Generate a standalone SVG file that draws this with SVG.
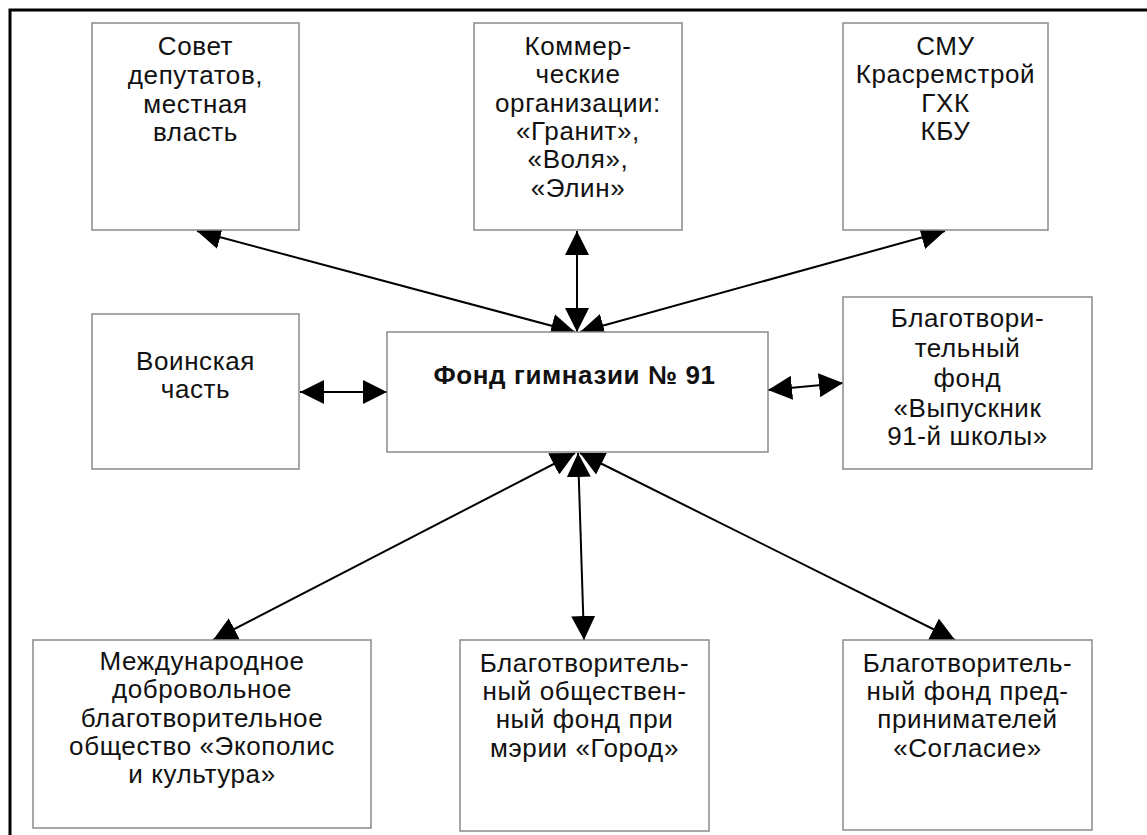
<svg xmlns="http://www.w3.org/2000/svg" width="1147" height="835" viewBox="0 0 1147 835">
<defs>
<style>
.box{fill:#fff;stroke:#8a8a8a;stroke-width:1.5}
.t{font-family:"Liberation Sans",Arial,sans-serif;font-size:26px;letter-spacing:0.6px;fill:#111;text-anchor:middle}
.b{font-weight:bold}
.c{stroke:#000;stroke-width:2;fill:none;marker-start:url(#ah);marker-end:url(#ah)}
</style>
<marker id="ah" viewBox="0 0 24 24" refX="24" refY="12" markerWidth="24" markerHeight="24" markerUnits="userSpaceOnUse" orient="auto-start-reverse">
<path d="M0,0 L24,12 L0,24 z" fill="#000"/>
</marker>
</defs>
<rect width="1147" height="835" fill="#fff"/>
<path d="M10,835 L10,10 L1147,10" fill="none" stroke="#000" stroke-width="3"/>

<g id="connectors">
<line class="c" x1="197" y1="231" x2="575" y2="332"/>
<line class="c" x1="577" y1="231" x2="577" y2="332"/>
<line class="c" x1="945" y1="231" x2="580" y2="332"/>
<line class="c" x1="300" y1="392" x2="387" y2="392"/>
<line class="c" x1="768" y1="390" x2="843" y2="383"/>
<line class="c" x1="213" y1="640" x2="575" y2="453"/>
<line class="c" x1="584" y1="640" x2="578" y2="453"/>
<line class="c" x1="955" y1="640" x2="580" y2="453"/>
</g>

<g id="n-sovet">
<rect class="box" x="92" y="23" width="207" height="207"/>
<text class="t" x="195.5" y="55">Совет</text>
<text class="t" x="195.5" y="84">депутатов,</text>
<text class="t" x="195.5" y="113">местная</text>
<text class="t" x="195.5" y="141">власть</text>
</g>

<g id="n-kommer">
<rect class="box" x="474" y="23" width="208" height="207"/>
<text class="t" x="578" y="55">Коммер-</text>
<text class="t" x="578" y="83">ческие</text>
<text class="t" x="578" y="112">организации:</text>
<text class="t" x="578" y="140">«Гранит»,</text>
<text class="t" x="578" y="168">«Воля»,</text>
<text class="t" x="578" y="197">«Элин»</text>
</g>

<g id="n-smu">
<rect class="box" x="843" y="23" width="205" height="207"/>
<text class="t" x="945.5" y="55">СМУ</text>
<text class="t" x="945.5" y="83">Красремстрой</text>
<text class="t" x="945.5" y="112">ГХК</text>
<text class="t" x="945.5" y="140">КБУ</text>
</g>

<g id="n-voin">
<rect class="box" x="92" y="314" width="207" height="155"/>
<text class="t" x="195.5" y="370">Воинская</text>
<text class="t" x="195.5" y="398">часть</text>
</g>

<g id="n-center">
<rect class="box" x="387" y="332" width="381" height="120"/>
<text class="t b" x="574.5" y="384">Фонд гимназии № 91</text>
</g>

<g id="n-vypusknik">
<rect class="box" x="843" y="297" width="249" height="172"/>
<text class="t" x="967.5" y="327">Благотвори-</text>
<text class="t" x="967.5" y="357">тельный</text>
<text class="t" x="967.5" y="387">фонд</text>
<text class="t" x="967.5" y="417">«Выпускник</text>
<text class="t" x="967.5" y="445">91-й школы»</text>
</g>

<g id="n-ekopolis">
<rect class="box" x="33" y="640" width="338" height="188"/>
<text class="t" x="202" y="670">Международное</text>
<text class="t" x="202" y="698">добровольное</text>
<text class="t" x="202" y="727">благотворительное</text>
<text class="t" x="202" y="755">общество «Экополис</text>
<text class="t" x="202" y="783">и культура»</text>
</g>

<g id="n-gorod">
<rect class="box" x="460" y="640" width="249" height="191"/>
<text class="t" x="584.5" y="672">Благотворитель-</text>
<text class="t" x="584.5" y="700">ный обществен-</text>
<text class="t" x="584.5" y="728">ный фонд при</text>
<text class="t" x="584.5" y="757">мэрии «Город»</text>
</g>

<g id="n-soglasie">
<rect class="box" x="843" y="640" width="249" height="190"/>
<text class="t" x="967.5" y="672">Благотворитель-</text>
<text class="t" x="967.5" y="700">ный фонд пред-</text>
<text class="t" x="967.5" y="728">принимателей</text>
<text class="t" x="967.5" y="757">«Согласие»</text>
</g>
</svg>
